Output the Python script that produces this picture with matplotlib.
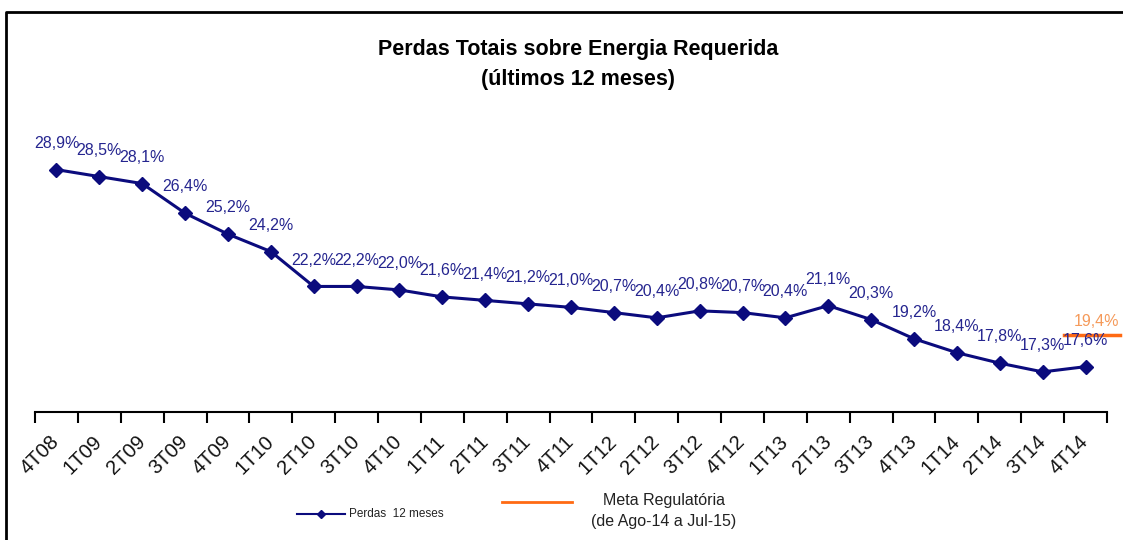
import numpy as np
import matplotlib.pyplot as plt
from matplotlib.lines import Line2D

plt.rcParams['font.family'] = ['Liberation Sans', 'DejaVu Sans']

# datos
trimestres = ['4T08', '1T09', '2T09', '3T09', '4T09', '1T10', '2T10', '3T10', '4T10',
              '1T11', '2T11', '3T11', '4T11', '1T12', '2T12', '3T12', '4T12', '1T13',
              '2T13', '3T13', '4T13', '1T14', '2T14', '3T14', '4T14']
perdas = [28.9, 28.5, 28.1, 26.4, 25.2, 24.2, 22.2, 22.2, 22.0, 21.6, 21.4, 21.2, 21.0,
          20.7, 20.4, 20.8, 20.7, 20.4, 21.1, 20.3, 19.2, 18.4, 17.8, 17.3, 17.6]
meta = 19.4

azul = '#0b0b7d'
laranja = '#ff6a13'

fig = plt.figure(figsize=(11.23, 5.40), dpi=100)
ax = fig.add_axes([35/1123, 1-412/540, (1107-35)/1123, (412-133)/540])

x = np.arange(len(trimestres))
ax.plot(x, perdas, color=azul, lw=2.2, marker='D', ms=7, mec=azul, mfc=azul)

for xi, v in zip(x, perdas):
    ax.annotate(f'{v:.1f}%'.replace('.', ','), (xi, v), xytext=(0, 19),
                textcoords='offset points', ha='center', va='center',
                fontsize=11.5, color='#25258f')

# meta regulatoria
ax.plot([len(x) - 1.5, len(x) - 0.2], [meta, meta], color=laranja, lw=2.5, clip_on=False)
ax.annotate(f'{meta:.1f}%'.replace('.', ','), (len(x) - 0.75, meta), xytext=(0, 10),
            textcoords='offset points', ha='center', va='center',
            fontsize=11.5, color='#f59a5a', annotation_clip=False)

ax.set_xlim(-0.5, len(x) - 0.5)
ax.set_ylim(15, 31)
ax.set_yticks([])
ax.set_xticks(np.arange(len(x) + 1) - 0.5, minor=False)
ax.set_xticklabels([])
ax.set_xticks(x, minor=True)
ax.set_xticklabels(trimestres, minor=True, rotation=45, ha='right', va='center',
                   rotation_mode='anchor', fontsize=14.5, color='#111111')
ax.tick_params(axis='x', which='major', length=8, width=1.5, direction='out')
ax.tick_params(axis='x', which='minor', length=0, pad=19)
for s in ['top', 'right', 'left']:
    ax.spines[s].set_visible(False)
ax.spines['bottom'].set_linewidth(1.5)

fig.text(578/1123, 1-50/540, 'Perdas Totais sobre Energia Requerida', ha='center', va='center',
         fontsize=15.5, fontweight='bold')
fig.text(578/1123, 1-80/540, '(últimos 12 meses)', ha='center', va='center',
         fontsize=15.5, fontweight='bold')

# legenda
fig.add_artist(Line2D([297/1123, 321/1123, 345/1123], [1-514/540] * 3, color=azul, lw=1.5,
                      marker='D', ms=4, markevery=[1], transform=fig.transFigure))
fig.text(349/1123, 1-514/540, 'Perdas  12 meses', ha='left', va='center', fontsize=8.5,
         color='#222222')
fig.add_artist(Line2D([502/1123, 572/1123], [1-502/540, 1-502/540], color=laranja, lw=2,
                      transform=fig.transFigure))
fig.text(664/1123, 1-511/540, 'Meta Regulatória\n(de Ago-14 a Jul-15)', ha='center',
         va='center', fontsize=11.5, color='#222222', linespacing=1.45)

# marco (solo arriba e izquierda)
fig.add_artist(Line2D([6/1123, 6/1123, 1.0], [0.0, 1-12/540, 1-12/540], color='black', lw=2,
                      transform=fig.transFigure))

fig.savefig('out.png', dpi=100)
